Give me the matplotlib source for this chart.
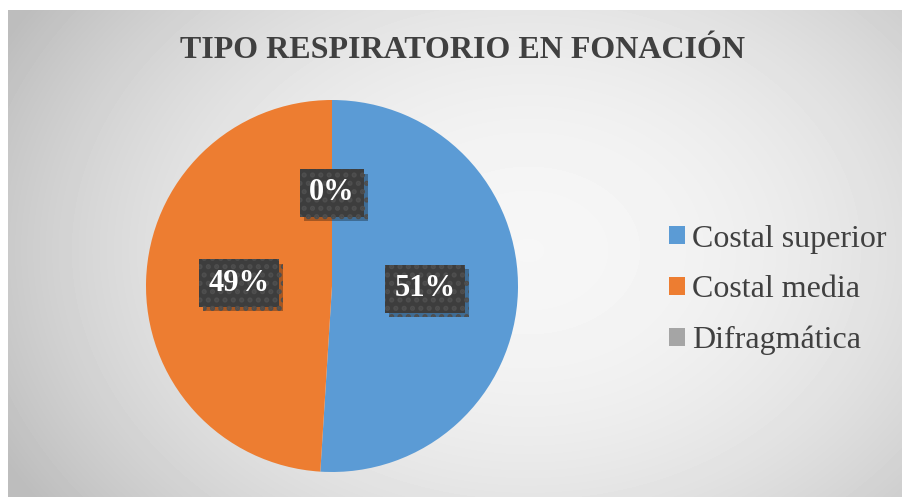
import numpy as np
import matplotlib
matplotlib.use("Agg")
import matplotlib.pyplot as plt
from matplotlib.patches import Patch
import matplotlib.patheffects as pe

# Data
categorias = ['Costal superior', 'Costal media', 'Difragmática']
porcentajes = [51, 49, 0]
colores = ['#5B9BD5', '#ED7D31', '#A5A5A5']
titulo = 'TIPO RESPIRATORIO EN FONACIÓN'

plt.rcParams['font.family'] = ['Liberation Serif', 'DejaVu Serif']
plt.rcParams['hatch.linewidth'] = 2.5

W, H = 902, 497
fig = plt.figure(figsize=(W / 100, H / 100), dpi=100)
fig.patch.set_facecolor('white')

# radial gradient background (chart area)
bg = fig.add_axes([8 / W, 0, 1 - 8 / W, (H - 10) / H])
bg.set_axis_off()
yy, xx = np.mgrid[0:487, 0:894]
cx, cy = 520, 240
d = np.sqrt(((xx - cx) / 560.0) ** 2 + ((yy - cy) / 420.0) ** 2)
g = np.clip(0.965 - 0.2 * d ** 2, 0.74, 1)
bg.imshow(g, cmap='gray', vmin=0, vmax=1, aspect='auto', interpolation='bilinear')

# title
fig.text(462 / W, 1 - 50 / H, titulo, ha='center', va='center',
         fontsize=23, fontweight='bold', color='#404040')

# pie
r = 186
ax = fig.add_axes([(332 - r) / W, (H - 286 - r) / H, 2 * r / W, 2 * r / H])
wedges, _, autotexts = ax.pie(porcentajes, colors=colores, startangle=90,
                              counterclock=False, autopct='%1.0f%%',
                              pctdistance=0.5, radius=1,
                              wedgeprops=dict(linewidth=0))
ax.set_xlim(-1, 1)
ax.set_ylim(-1, 1)
ax.set_aspect('equal')

for t in autotexts:
    t.set_fontsize(22)
    t.set_fontweight('bold')
    t.set_color('white')
    t.set_zorder(5)
    t.set_bbox(dict(boxstyle='square,pad=0.3', facecolor='#3d3d3d',
                    edgecolor='#4e4e4e', hatch='..', linewidth=0))
    t.get_bbox_patch().set_path_effects([
        pe.SimplePatchShadow(offset=(3, -3), shadow_rgbFace='black', alpha=0.3),
        pe.Normal()])

# legend
handles = [Patch(facecolor=c, edgecolor='none') for c in colores]
fig.legend(handles, categorias, loc='center left',
           bbox_to_anchor=(669 / W, 1 - 290 / H), frameon=False,
           borderaxespad=0, borderpad=0,
           fontsize=23, labelcolor='#404040', handlelength=0.5,
           handleheight=0.5, handletextpad=0.22, labelspacing=0.68)

fig.savefig('out.png', dpi=100)
